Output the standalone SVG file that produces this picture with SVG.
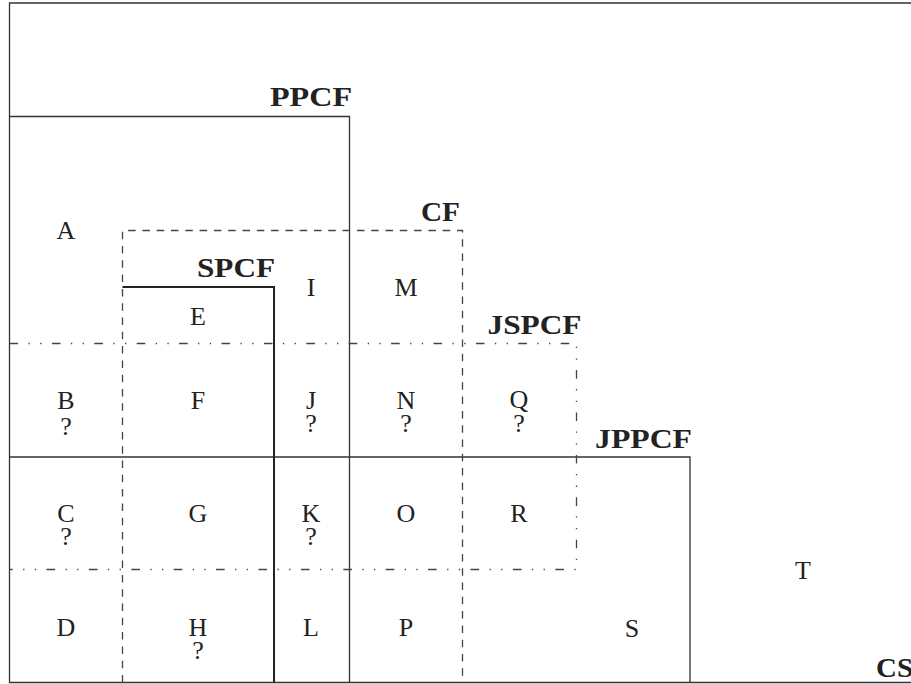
<svg xmlns="http://www.w3.org/2000/svg" width="911" height="684" viewBox="0 0 911 684">
<style>
.ln{fill:none;stroke:#333;stroke-width:1.3}
.thick{fill:none;stroke:#222;stroke-width:2}
.dash{fill:none;stroke:#444;stroke-width:1.3;stroke-dasharray:7.5 6.8}
.dd{fill:none;stroke:#444;stroke-width:1.3;stroke-dasharray:8.6 10.4 1.3 10.4 1.3 10.4}
.lbl{font-family:"Liberation Serif","Times New Roman",serif;font-size:26px;fill:#222;text-anchor:middle}
.set{font-family:"Liberation Serif","Times New Roman",serif;font-size:27px;font-weight:bold;fill:#222}
</style>
<rect x="0" y="0" width="911" height="684" fill="#fff"/>
<g id="CS">
<path class="ln" d="M920 3 H9.5 V682.5 H920"/>
<text class="set" x="876" y="677" textLength="37" lengthAdjust="spacingAndGlyphs">CS</text>
</g>
<g id="PPCF">
<path class="ln" d="M9.5 116.5 H349.5 V682.5"/>
<text class="set" x="270" y="106" textLength="82" lengthAdjust="spacingAndGlyphs">PPCF</text>
</g>
<g id="JPPCF">
<path class="ln" d="M9.5 457 H690 V682.5"/>
<text class="set" x="595" y="448" textLength="97" lengthAdjust="spacingAndGlyphs">JPPCF</text>
</g>
<g id="CF">
<path class="dash" d="M122.5 682.5 V230.5 H462.5 V682.5"/>
<text class="set" x="421" y="221" textLength="39" lengthAdjust="spacingAndGlyphs">CF</text>
</g>
<g id="JSPCF">
<path class="dd" d="M9.5 343.5 H576.5 V569.5 H9.5"/>
<text class="set" x="487.5" y="334" textLength="94" lengthAdjust="spacingAndGlyphs">JSPCF</text>
</g>
<g id="SPCF">
<path class="thick" d="M122.5 287 H274 V682.5"/>
<text class="set" x="197" y="277" textLength="78" lengthAdjust="spacingAndGlyphs">SPCF</text>
</g>
<g id="connectors"></g>
<g id="A"><text class="lbl" x="66" y="239">A</text></g>
<g id="B"><text class="lbl" x="66" y="409">B</text><text class="lbl" x="66" y="435">?</text></g>
<g id="C"><text class="lbl" x="66" y="522">C</text><text class="lbl" x="66" y="545">?</text></g>
<g id="D"><text class="lbl" x="66" y="636">D</text></g>
<g id="E"><text class="lbl" x="198" y="325">E</text></g>
<g id="F"><text class="lbl" x="198" y="409">F</text></g>
<g id="G"><text class="lbl" x="198" y="522">G</text></g>
<g id="H"><text class="lbl" x="198" y="636">H</text><text class="lbl" x="198" y="659">?</text></g>
<g id="I"><text class="lbl" x="311" y="296">I</text></g>
<g id="J"><text class="lbl" x="311" y="409">J</text><text class="lbl" x="311" y="432">?</text></g>
<g id="K"><text class="lbl" x="311" y="522">K</text><text class="lbl" x="311" y="545">?</text></g>
<g id="L"><text class="lbl" x="311" y="636">L</text></g>
<g id="M"><text class="lbl" x="406" y="296">M</text></g>
<g id="N"><text class="lbl" x="406" y="409">N</text><text class="lbl" x="406" y="432">?</text></g>
<g id="O"><text class="lbl" x="406" y="522">O</text></g>
<g id="P"><text class="lbl" x="406" y="636">P</text></g>
<g id="Q"><text class="lbl" x="519" y="408">Q</text><text class="lbl" x="519" y="432">?</text></g>
<g id="R"><text class="lbl" x="519" y="522">R</text></g>
<g id="S"><text class="lbl" x="632" y="637">S</text></g>
<g id="T"><text class="lbl" x="803" y="579">T</text></g>
</svg>
